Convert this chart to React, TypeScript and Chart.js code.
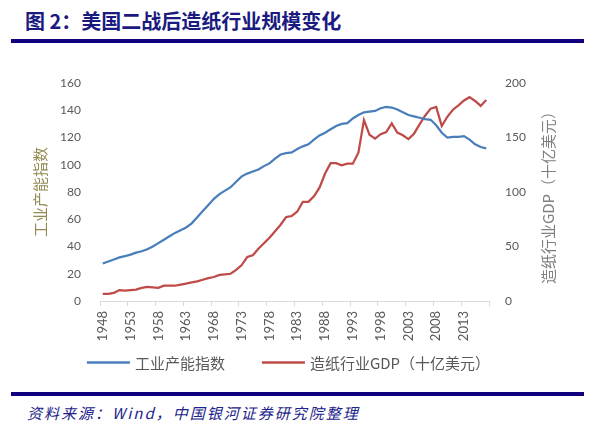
import React, { useEffect, useRef } from "react";
import { Chart, registerables } from "chart.js";

Chart.register(...registerables);

const TITLE = "图 2：美国二战后造纸行业规模变化";
const SOURCE = "资料来源：Wind，中国银河证券研究院整理";
const SERIES_A = "工业产能指数";
const SERIES_B = "造纸行业GDP（十亿美元）";
const LEFT_TITLE = "工业产能指数";
const RIGHT_TITLE = "造纸行业GDP（十亿美元）";

const years = [
  "1948", "1949", "1950", "1951", "1952", "1953", "1954", "1955", "1956", "1957",
  "1958", "1959", "1960", "1961", "1962", "1963", "1964", "1965", "1966", "1967",
  "1968", "1969", "1970", "1971", "1972", "1973", "1974", "1975", "1976", "1977",
  "1978", "1979", "1980", "1981", "1982", "1983", "1984", "1985", "1986", "1987",
  "1988", "1989", "1990", "1991", "1992", "1993", "1994", "1995", "1996", "1997",
  "1998", "1999", "2000", "2001", "2002", "2003", "2004", "2005", "2006", "2007",
  "2008", "2009", "2010", "2011", "2012", "2013", "2014", "2015", "2016", "2017",
];

const industrialIndex = [
  27.5, 29, 30.5, 32, 33, 34, 35.5, 36.5, 38, 40,
  42.5, 45, 47.5, 50, 52, 54, 57, 61.5, 66, 70.5,
  75, 78.5, 81, 83.5, 87.5, 91.5, 93.5, 95, 96.5, 99,
  101, 104.5, 107.5, 108.5, 109, 111.5, 113.5, 115, 118.5, 121.5,
  123.5, 126, 128.5, 130, 130.5, 134, 136.5, 138.5, 139, 139.5,
  141.5, 142.5, 142, 140.5, 138.5, 136.5, 135.5, 134.5, 133.5, 133,
  129, 123.5, 120, 120.5, 120.5, 121, 118.5, 115, 113, 112,
];

const paperGDP = [
  6.5, 6.5, 7.5, 10, 9.5, 10, 10.5, 12, 13, 12.5,
  12, 14, 14, 14, 15, 16, 17, 18, 19.5, 21,
  22, 24, 24.5, 25, 28.5, 33, 40.5, 42, 48, 53,
  58, 64, 70, 77, 78, 82, 91, 91, 96, 104,
  117, 126.5, 126.5, 124.5, 126, 126, 136, 166, 152.5, 149,
  153, 155, 163, 154.5, 152, 148.5, 153.5, 162, 170, 176.5,
  178, 160.5, 169, 175.5, 179.5, 184, 187, 183.5, 179, 184.5,
];

const leftMin = 0;
const leftMax = 160;
const leftStep = 20;
const rightMin = 0;
const rightMax = 200;
const rightStep = 50;
const labelEvery = 5;

const BLUE = "#4A7EBB";
const RED = "#BE4B48";
const NAVY = "#10007F";
const TICK_COLOR = "#595959";
const CJK = '"Noto Sans CJK SC"';

export default function App() {
  const ref = useRef<HTMLCanvasElement>(null);

  useEffect(() => {
    if (!ref.current) return;

    const rightTitlePlugin = {
      id: "rightTitle",
      afterDraw(chart: any) {
        const s = chart.scales.y1;
        const ctx = chart.ctx;
        ctx.save();
        ctx.font = `15px ${CJK}`;
        ctx.fillStyle = "#7F7F7F";
        ctx.textAlign = "center";
        ctx.textBaseline = "middle";
        ctx.translate(s.left + 59, (s.top + s.bottom) / 2 + 2);
        ctx.rotate(-Math.PI / 2);
        ctx.fillText(RIGHT_TITLE, 0, 0);
        ctx.restore();
      },
    };

    const legendPlugin = {
      id: "bottomLegend",
      afterDraw(chart: any) {
        const ctx = chart.ctx;
        const sets = chart.data.datasets;
        const lineW = 43;
        const textGap = 5;
        const itemGap = 37;
        ctx.save();
        ctx.font = `15px ${CJK}`;
        const widths = sets.map((d: any) => lineW + textGap + ctx.measureText(d.label).width);
        const total = widths.reduce((a: number, b: number) => a + b, 0) + itemGap * (sets.length - 1);
        const center = chart.scales.y1.right / 2;
        let x = center - total / 2;
        const y = chart.chartArea.bottom + 61.5;
        sets.forEach((d: any, i: number) => {
          ctx.strokeStyle = d.borderColor;
          ctx.lineWidth = 2.5;
          ctx.beginPath();
          ctx.moveTo(x, y);
          ctx.lineTo(x + lineW, y);
          ctx.stroke();
          ctx.fillStyle = TICK_COLOR;
          ctx.textAlign = "left";
          ctx.textBaseline = "middle";
          ctx.fillText(d.label, x + lineW + textGap, y + 1);
          x += widths[i] + itemGap;
        });
        ctx.restore();
      },
    };

    const chart = new Chart(ref.current, {
      type: "line",
      data: {
        labels: years,
        datasets: [
          {
            label: SERIES_A,
            data: industrialIndex,
            borderColor: BLUE,
            backgroundColor: BLUE,
            borderWidth: 2.25,
            pointRadius: 0,
            tension: 0,
            yAxisID: "y",
          },
          {
            label: SERIES_B,
            data: paperGDP,
            borderColor: RED,
            backgroundColor: RED,
            borderWidth: 2.25,
            pointRadius: 0,
            tension: 0,
            yAxisID: "y1",
          },
        ],
      },
      options: {
        responsive: false,
        animation: false,
        layout: { padding: { top: 33, right: 19, bottom: 0, left: 0 } },
        plugins: {
          tooltip: { enabled: false },
          legend: { display: false },
        },
        scales: {
          x: {
            type: "category",
            offset: true,
            afterFit(scale: any) {
              scale.height = 79;
            },
            grid: {
              display: true,
              offset: true,
              drawOnChartArea: false,
              drawTicks: true,
              tickLength: 5,
              color: (c: any) =>
                c.index === undefined || c.index % labelEvery === 0 ? "#D9D9D9" : "rgba(0,0,0,0)",
            },
            border: { display: true, color: "#D9D9D9", width: 1 },
            ticks: {
              autoSkip: false,
              maxRotation: 90,
              minRotation: 90,
              padding: 5,
              color: TICK_COLOR,
              font: { family: "Lato", size: 13 },
              callback: (_v: any, i: number) => (i % labelEvery === 0 ? years[i] : ""),
            },
          },
          y: {
            position: "left",
            min: leftMin,
            max: leftMax,
            afterFit(scale: any) {
              scale.width = 100;
            },
            grid: { display: false, drawTicks: false },
            border: { display: false },
            ticks: {
              stepSize: leftStep,
              padding: 19,
              color: TICK_COLOR,
              font: { family: "Lato", size: 12 },
            },
            title: {
              display: true,
              text: LEFT_TITLE,
              color: "#948A54",
              font: { family: CJK, size: 15 },
              padding: { top: 31, bottom: 0 },
            },
          },
          y1: {
            position: "right",
            min: rightMin,
            max: rightMax,
            afterFit(scale: any) {
              scale.width = 88;
            },
            grid: { display: false, drawTicks: false },
            border: { display: false },
            ticks: {
              stepSize: rightStep,
              padding: 16,
              color: TICK_COLOR,
              font: { family: "Lato", size: 12 },
            },
          },
        },
      },
      plugins: [rightTitlePlugin, legendPlugin],
    } as any);
    return () => chart.destroy();
  }, []);

  return (
    <div
      style={{
        position: "fixed",
        left: 0,
        top: 0,
        width: 596,
        height: 427,
        background: "#fff",
        overflow: "hidden",
      }}
    >
      <div
        style={{
          position: "absolute",
          left: 25,
          top: 8,
          fontFamily: CJK,
          fontWeight: 700,
          fontSize: 20,
          lineHeight: "26px",
          color: "#1A1A80",
          whiteSpace: "nowrap",
        }}
      >
        {TITLE}
      </div>
      <div style={{ position: "absolute", left: 11, top: 39, width: 573, height: 4, background: NAVY }} />
      <canvas
        ref={ref}
        width={596}
        height={330}
        style={{ position: "absolute", left: 0, top: 50, width: 596, height: 330 }}
      />
      <div style={{ position: "absolute", left: 11, top: 392, width: 573, height: 4, background: NAVY }} />
      <div
        style={{
          position: "absolute",
          left: 27,
          top: 402,
          fontFamily: CJK,
          fontStyle: "italic",
          fontSize: 15,
          lineHeight: "22px",
          letterSpacing: 2,
          color: "#22228A",
          whiteSpace: "nowrap",
        }}
      >
        {SOURCE}
      </div>
    </div>
  );
}
